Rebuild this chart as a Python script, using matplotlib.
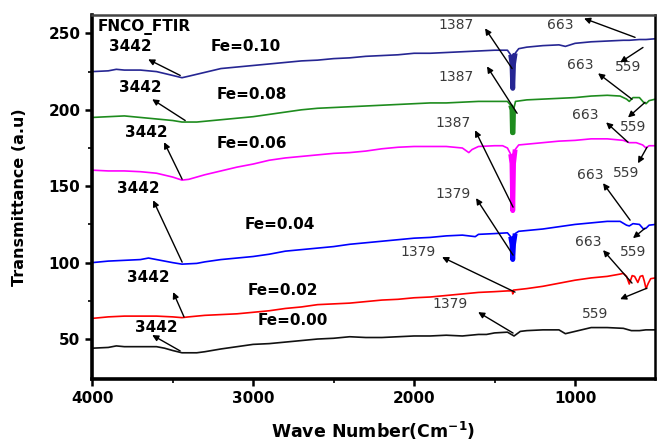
import matplotlib
matplotlib.use('Agg')
import matplotlib.pyplot as plt
from matplotlib.ticker import FixedLocator
import numpy as np

plt.rcParams['font.family'] = ['DejaVu Sans']
plt.rcParams['mathtext.default'] = 'bf'

# spectra (wavenumber, transmittance a.u.)
wave_010 = [4000, 3900, 3850, 3800, 3700, 3600, 3500, 3442, 3400, 3300, 3200, 3100, 3000, 2900, 2800, 2700,
            2600, 2500, 2400, 2300, 2200, 2100, 2000, 1900, 1800, 1700, 1600, 1500, 1420, 1400, 1392, 1387,
            1382, 1372, 1350, 1300, 1200, 1100, 1060, 1000, 900, 800, 700, 663, 600, 559, 500]
trans_010 = [225, 225.5, 226.5, 226, 226, 225, 222.5, 221, 222, 224.5, 227, 228, 229, 230, 231, 232,
             232.5, 233.5, 234, 235, 235.5, 236, 237, 237, 237.5, 238, 238.5, 239, 239, 236, 230, 214,
             230, 237, 240, 241, 242, 242.5, 241.5, 243.5, 244.5, 245, 245.5, 245.5, 246, 246, 246.5]

wave_008 = [4000, 3900, 3800, 3700, 3600, 3500, 3442, 3350, 3300, 3200, 3100, 3000, 2900, 2800, 2700, 2600,
            2500, 2400, 2300, 2200, 2100, 2000, 1900, 1800, 1700, 1600, 1500, 1420, 1400, 1392, 1389, 1385,
            1382, 1370, 1300, 1200, 1100, 1000, 900, 800, 720, 680, 663, 640, 600, 575, 559, 540, 500]
trans_008 = [195, 195.5, 196, 195, 194, 193, 192, 192, 192.5, 193.5, 194.5, 195.5, 197, 198.5, 200, 201,
             201.5, 202, 202.5, 203, 203.5, 204, 204.5, 204.5, 205, 205.5, 205.5, 205.5, 203, 200, 185, 185,
             200, 205.5, 206.5, 207, 207.5, 208, 209, 209.5, 209, 207, 205.5, 208, 208, 205, 204, 206, 207]

wave_006 = [4000, 3900, 3800, 3700, 3600, 3500, 3442, 3400, 3300, 3200, 3100, 3000, 2900, 2800, 2700, 2600,
            2500, 2400, 2300, 2200, 2100, 2000, 1900, 1800, 1700, 1660, 1640, 1600, 1500, 1450, 1420, 1400,
            1392, 1387, 1382, 1372, 1350, 1300, 1200, 1100, 1000, 900, 800, 700, 663, 620, 580, 559, 540, 500]
trans_006 = [160.5, 160, 160, 159.5, 158.5, 156, 154, 154.5, 157.5, 160, 162.5, 164.5, 167, 168.5, 169.5, 170.5,
             171.5, 172, 173, 174.5, 175.5, 176, 176, 176, 175, 172, 174, 176, 176.5, 176.5, 175, 171,
             165, 134, 165, 174, 177, 177.5, 178.5, 179.5, 180, 181, 181, 180, 178.5, 178.5, 177, 175, 176.5, 176.5]

wave_004 = [4000, 3900, 3800, 3700, 3650, 3600, 3500, 3442, 3350, 3300, 3200, 3100, 3000, 2900, 2800, 2700,
            2600, 2500, 2400, 2300, 2200, 2100, 2000, 1900, 1800, 1700, 1620, 1600, 1500, 1420, 1400, 1392,
            1387, 1382, 1372, 1350, 1300, 1200, 1100, 1000, 900, 800, 720, 680, 663, 640, 600, 575, 559,
            540, 500]
trans_004 = [100, 101, 101.5, 102, 103, 102, 100, 99, 99.5, 100.5, 102, 103, 104, 105.5, 107.5, 108.5,
             109.5, 110.5, 112, 113, 114, 115, 116, 116.5, 117.5, 118, 117, 118.5, 119, 119.5, 117, 112,
             102, 112, 119, 120.5, 121, 122, 123.5, 125, 126, 127, 127, 124.5, 124, 125.5, 125, 122, 122.5,
             124.5, 125]

wave_002 = [4000, 3900, 3800, 3700, 3600, 3500, 3442, 3400, 3300, 3200, 3100, 3000, 2900, 2800, 2700, 2600,
            2500, 2400, 2300, 2200, 2100, 2000, 1900, 1800, 1700, 1600, 1500, 1420, 1390, 1387, 1384, 1300,
            1200, 1100, 1000, 900, 800, 720, 700, 680, 663, 645, 630, 610, 595, 580, 570, 559, 545, 530, 500]
trans_002 = [63.5, 64.5, 65, 65, 65, 64.5, 64, 64.5, 65.5, 66, 66.5, 67.5, 68.5, 70, 71, 72.5,
             73, 73.5, 74.5, 75.5, 76, 77, 77.5, 78.5, 79.5, 80.5, 81, 81.5, 81.5, 79.5, 82, 83,
             84.5, 86.5, 88.5, 90, 91, 92.5, 93, 91, 86, 91.5, 91, 87, 91, 91.5, 88, 83, 86.5, 89.5, 90]

wave_000 = [4000, 3900, 3850, 3800, 3700, 3600, 3550, 3500, 3442, 3350, 3300, 3200, 3100, 3000, 2900, 2800,
            2700, 2600, 2500, 2400, 2300, 2200, 2100, 2000, 1900, 1800, 1700, 1600, 1550, 1500, 1420, 1379,
            1340, 1300, 1200, 1100, 1060, 1000, 900, 800, 700, 650, 600, 560, 500]
trans_000 = [44, 44.5, 45.5, 45, 45, 45, 44, 42.5, 41, 41, 41.7, 43.5, 45, 46.5, 47, 48,
             49, 50, 50.5, 51.5, 51, 51, 51.5, 52, 52, 52.5, 52, 53, 53, 54, 54.5, 52,
             55, 55.5, 56, 56, 53.5, 55, 57.5, 57.5, 57, 55.5, 55.5, 56, 56]

series = [
    (wave_010, trans_010, '#262693', 'Fe=0.10', (3267, 241.5)),
    (wave_008, trans_008, '#1e8c1e', 'Fe=0.08', (3224, 210)),
    (wave_006, trans_006, '#ff00ff', 'Fe=0.06', (3224, 178)),
    (wave_004, trans_004, '#0000ff', 'Fe=0.04', (3050, 125)),
    (wave_002, trans_002, '#ff0000', 'Fe=0.02', (3037, 82)),
    (wave_000, trans_000, '#111111', 'Fe=0.00', (2969, 62.4)),
]

# peak labels: text, label pos, arrow head (near label), arrow tail (on curve)
left_peaks = [
    ('3442', (3894, 241.5), (3652, 233), (3453, 222.5)),
    ('3442', (3832, 214.7), (3627, 206.9), (3422, 193)),
    ('3442', (3795, 185.3), (3553, 178.8), (3441, 154.6)),
    ('3442', (3845, 148.7), (3621, 140.8), (3441, 100.3)),
    ('3442', (3783, 90.5), (3497, 80.7), (3429, 64.4)),
    ('3442', (3733, 57.8), (3627, 52.6), (3453, 42.2)),
]
right_peaks = [
    ('1387', (1851, 255.2), (1559, 253.3), (1391, 227)),
    ('663', (1174, 255.2), (944, 259.8), (627, 247.4)),
    ('559', (752, 227.8), (720, 231), (578, 240.8)),
    ('1387', (1851, 221.2), (1547, 228.4), (1360, 197.7)),
    ('663', (1050, 229), (857, 223.9), (646, 206.9)),
    ('559', (720, 188.6), (671, 195), (565, 204.9)),
    ('1387', (1870, 191.2), (1621, 186.6), (1385, 136.3)),
    ('663', (1019, 196.4), (807, 191.8), (671, 178.8)),
    ('559', (764, 158.5), (609, 165), (553, 175.5)),
    ('1379', (1870, 144.8), (1615, 142.2), (1385, 104.9)),
    ('663', (988, 157.2), (826, 152), (658, 127.8)),
    ('559', (720, 106.9), (640, 116), (565, 122.5)),
    ('1379', (2087, 106.9), (1826, 103.6), (1373, 80.7)),
    ('663', (1000, 113.4), (826, 108.2), (646, 86.6)),
    ('559', (957, 66.3), (720, 76.1), (553, 83.3)),
    ('1379', (1888, 72.9), (1602, 67.6), (1385, 53.9)),
]

fig = plt.figure(figsize=(6.63, 4.43), dpi=100)
ax = fig.add_axes([0.139, 0.145, 0.849, 0.821])

for w, t, c, lab, pos in series:
    w = np.array(w)
    t = np.array(t)
    ax.plot(w, t, color=c, lw=1.2)
    # the sharp 1387 band is drawn heavy in the original
    m = (w <= 1400) & (w >= 1372)
    if lab in ('Fe=0.10', 'Fe=0.08', 'Fe=0.06', 'Fe=0.04'):
        ax.plot(w[m], t[m], color=c, lw=3.5, solid_capstyle='butt')
    ax.text(pos[0], pos[1], lab, fontsize=11, fontweight='bold', ha='left', va='center')

arrow = dict(arrowstyle='-|>', color='black', lw=1.0, mutation_scale=9, shrinkA=0, shrinkB=0)
for txt, pos, head, tail in left_peaks:
    ax.text(pos[0], pos[1], txt, fontsize=11, fontweight='bold', ha='left', va='center')
    ax.annotate('', xy=head, xytext=tail, arrowprops=arrow)
for txt, pos, head, tail in right_peaks:
    ax.text(pos[0], pos[1], txt, fontsize=10, color='#3a3a3a', ha='left', va='center')
    ax.annotate('', xy=head, xytext=tail, arrowprops=arrow)

ax.text(3969, 254, 'FNCO_FTIR', fontsize=11, fontweight='bold', ha='left', va='center')

ax.set_xlim(4000, 503)
ax.set_ylim(24, 262)
ax.xaxis.set_major_locator(FixedLocator([4000, 3000, 2000, 1000]))
ax.xaxis.set_minor_locator(FixedLocator([3500, 2500, 1500]))
ax.yaxis.set_major_locator(FixedLocator([50, 100, 150, 200, 250]))
ax.yaxis.set_minor_locator(FixedLocator([75, 125, 175, 225]))
ax.tick_params(which='major', direction='out', length=5, width=1.8, labelsize=11)
ax.tick_params(which='minor', direction='out', length=3, width=1.2)
for lb in ax.get_xticklabels() + ax.get_yticklabels():
    lb.set_fontweight('bold')

for s in ['left', 'bottom']:
    ax.spines[s].set_linewidth(2.6)
for s in ['top', 'right']:
    ax.spines[s].set_linewidth(1.8)
ax.spines['top'].set_color('#444444')

ax.set_xlabel(r'Wave Number(Cm$^{-1}$)', fontsize=12.5, fontweight='bold')
ax.set_ylabel('Transmittance (a.u)', fontsize=11.5, fontweight='bold')
ax.xaxis.set_label_coords(0.5, -0.112)
ax.yaxis.set_label_coords(-0.115, 0.5)

fig.savefig('out.png', dpi=100)
